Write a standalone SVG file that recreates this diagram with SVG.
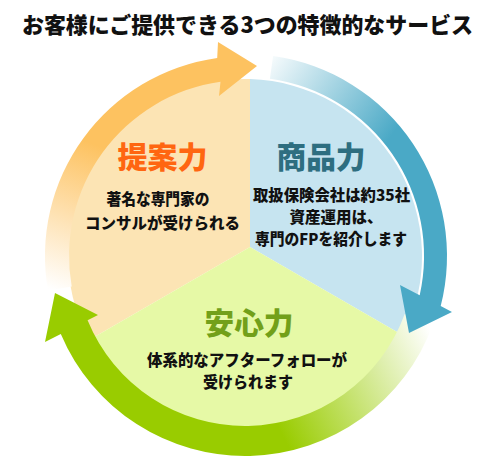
<svg xmlns="http://www.w3.org/2000/svg" width="497" height="466" viewBox="0 0 497 466">
<style>
text{font-family:"Noto Sans CJK JP","Noto Sans",sans-serif;font-weight:900;text-anchor:middle}
.head{font-size:30px}
.body{font-size:15.5px;fill:#111}
.title{font-size:22px;fill:#111}
</style>
<defs>
<linearGradient id="gOr" gradientUnits="userSpaceOnUse" x1="58" y1="292" x2="110" y2="150">
<stop offset="0" stop-color="#FFFFFF"/>
<stop offset="1" stop-color="#FDC260"/>
</linearGradient>
<linearGradient id="gBl" gradientUnits="userSpaceOnUse" x1="262" y1="58" x2="385" y2="145">
<stop offset="0" stop-color="#FFFFFF"/>
<stop offset="1" stop-color="#4AA9C6"/>
</linearGradient>
<linearGradient id="gGr" gradientUnits="userSpaceOnUse" x1="430" y1="330" x2="270" y2="410">
<stop offset="0" stop-color="#FFFFFF"/>
<stop offset="1" stop-color="#99CC00"/>
</linearGradient>
</defs>
<rect width="497" height="466" fill="#FFFFFF"/>
<text class="title" x="247.5" y="33" textLength="451" lengthAdjust="spacingAndGlyphs">お客様にご提供できる3つの特徴的なサービス</text>
<g id="node-teian">
<path d="M250,247 L250,79.1 A177,177 0 0 0 89.1,339.9 Z" fill="#FCE4B4"/>
<text class="head" x="162.5" y="168" fill="#FF6611" textLength="90" lengthAdjust="spacingAndGlyphs">提案力</text>
<text class="body" x="158" y="205" textLength="103" lengthAdjust="spacingAndGlyphs">著名な専門家の</text>
<text class="body" x="162.5" y="229" textLength="155" lengthAdjust="spacingAndGlyphs">コンサルが受けられる</text>
</g>
<g id="node-shohin">
<path d="M250,247 L250,79.1 A177,177 0 0 1 403.2,335.4 Z" fill="#C6E4F0"/>
<text class="head" x="321" y="168" fill="#2E6E80" textLength="89" lengthAdjust="spacingAndGlyphs">商品力</text>
<text class="body" x="331.5" y="201" textLength="157" lengthAdjust="spacingAndGlyphs">取扱保険会社は約35社</text>
<text class="body" x="336" y="223">資産運用は、</text>
<text class="body" x="331" y="245" textLength="152" lengthAdjust="spacingAndGlyphs">専門のFPを紹介します</text>
</g>
<g id="node-anshin">
<path d="M250,247 L403.2,335.4 A177,177 0 0 1 89.1,339.9 Z" fill="#E6F9A6"/>
<text class="head" x="249" y="334" fill="#72A01A" textLength="89" lengthAdjust="spacingAndGlyphs">安心力</text>
<text class="body" x="247" y="366" textLength="200" lengthAdjust="spacingAndGlyphs">体系的なアフターフォローが</text>
<text class="body" x="248" y="388" textLength="90" lengthAdjust="spacingAndGlyphs">受けられます</text>
</g>
<g id="connectors">
<path id="arrow-green" d="M432.9,324.4 A200,200 0 0 1 60.8,333.9 L45,342 L55,293 L98,315 L87.6,320.3 A170,170 0 0 0 404.7,314.1 Z" fill="url(#gGr)"/>
<path id="arrow-orange" d="M48,290.7 A200,200 0 0 1 217.2,57.9 L218,42 L257,66 L219,96 L220.5,81.7 A176,176 0 0 0 71.7,286.6 Z" fill="url(#gOr)"/>
<path id="arrow-blue" d="M273.1,56 A202,202 0 0 1 440.7,306.1 L452,312 L409,333 L400,285 L419.7,295.2 A179,179 0 0 0 269.9,78.7 Z" fill="url(#gBl)"/>
</g>
</svg>
